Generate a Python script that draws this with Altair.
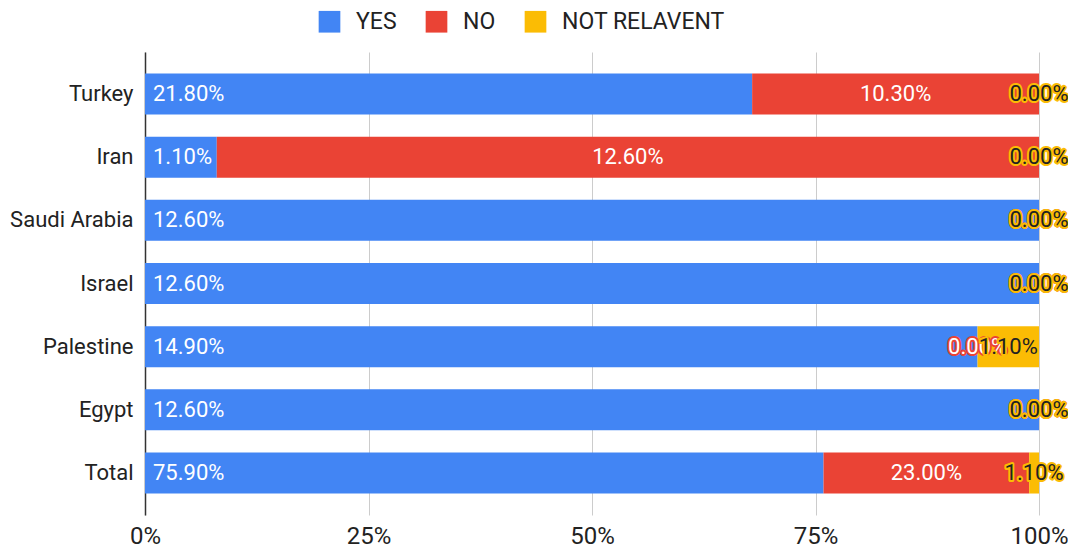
import altair as alt
import pandas as pd

countries = ["Turkey", "Iran", "Saudi Arabia", "Israel", "Palestine", "Egypt", "Total"]
series = ["YES", "NO", "NOT RELAVENT"]
yes_vals = [21.8, 1.1, 12.6, 12.6, 14.9, 12.6, 75.9]
no_vals = [10.3, 12.6, 0.0, 0.0, 0.0, 0.0, 23.0]
nr_vals = [0.0, 0.0, 0.0, 0.0, 1.1, 0.0, 1.1]
colors = ["#4285F4", "#EA4335", "#FBBC04"]

rows = []
for i, c in enumerate(countries):
    for j, (s, vals) in enumerate(zip(series, [yes_vals, no_vals, nr_vals])):
        rows.append({"country": c, "series": s, "order": j, "value": vals[i],
                     "label": f"{vals[i]:.2f}%"})
df = pd.DataFrame(rows)

FONT = "Roboto"
FS = 22

base = alt.Chart(df).transform_stack(
    stack="value", as_=["x0", "x1"], groupby=["country"], offset="normalize",
    sort=[alt.SortField("order", order="ascending")]
).transform_calculate(mid="(datum.x0 + datum.x1) / 2")

yenc = alt.Y("country:N", sort=countries, title=None,
             scale=alt.Scale(paddingInner=0.35, paddingOuter=0.34),
             axis=alt.Axis(labelFont=FONT, labelFontSize=22, labelColor="#222222",
                           labelPadding=12, ticks=False, domain=True,
                           domainColor="#333333", domainWidth=1.5, grid=False,
                           labelLimit=300))

bars = base.mark_bar().encode(
    x=alt.X("x0:Q", scale=alt.Scale(domain=[0, 1], nice=False), title=None,
            axis=alt.Axis(values=[0, 0.25, 0.5, 0.75, 1], format=".0%",
                          labelFont=FONT, labelFontSize=24, labelColor="#222222",
                          ticks=False, domain=False, grid=True, gridColor="#cccccc",
                          labelPadding=9, labelFlush=False, labelOverlap=False)),
    x2="x1:Q",
    y=yenc,
    color=alt.Color("series:N", scale=alt.Scale(domain=series, range=colors),
                    sort=series, title=None,
                    legend=alt.Legend(orient="none", legendX=173, legendY=-42,
                                      direction="horizontal", symbolType="square",
                                      symbolSize=470, symbolStrokeWidth=0,
                                      labelFont=FONT, labelFontSize=23,
                                      labelColor="#222222", labelOffset=15,
                                      labelLimit=400,
                                      columnPadding=28, padding=0)),
)

yes_lbl = base.transform_filter("datum.series == 'YES'").mark_text(
    align="left", baseline="middle", dx=8, font=FONT, fontSize=FS, color="white"
).encode(x="x0:Q", y=alt.Y("country:N", sort=countries), text="label:N")

def halo(sname, halo_color, text_color):
    b = base.transform_filter(f"datum.series == '{sname}'")
    h = b.mark_text(align="center", baseline="middle", font=FONT, fontSize=FS,
                    color=halo_color, stroke=halo_color, strokeWidth=4,
                    strokeJoin="round").encode(
        x="mid:Q", y=alt.Y("country:N", sort=countries), text="label:N")
    t = b.mark_text(align="center", baseline="middle", font=FONT, fontSize=FS,
                    color=text_color).encode(
        x="mid:Q", y=alt.Y("country:N", sort=countries), text="label:N")
    return [h, t]

layers = [bars, yes_lbl] + halo("NO", "#EA4335", "#ffffff") + halo("NOT RELAVENT", "#FBBC04", "#222222")

chart = alt.layer(*layers).properties(
    width=894, height=463,
    autosize=alt.AutoSizeParams(type="none"),
    padding={"left": 137, "top": 44, "right": 29, "bottom": 33},
).configure_view(stroke=None)

chart.save("out.html", embed_options={"renderer": "svg", "actions": False})
